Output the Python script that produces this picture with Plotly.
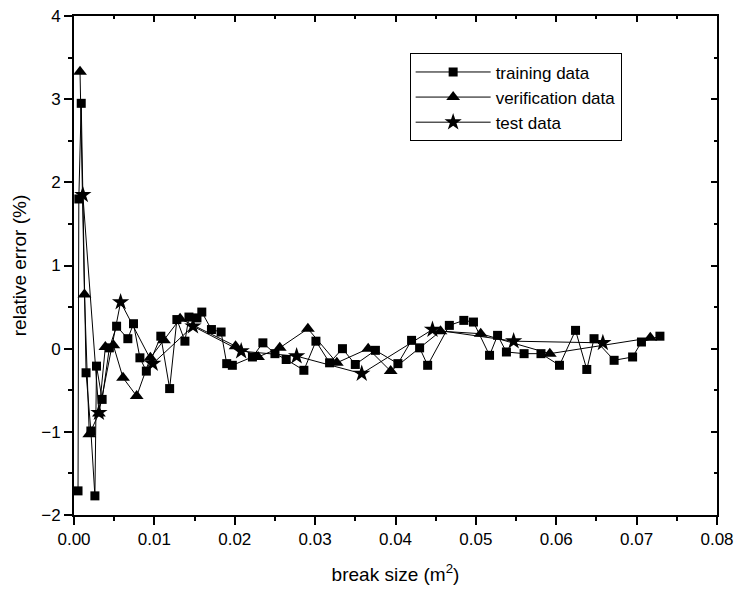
import plotly.graph_objects as go

# training data
train_x = [0.0005, 0.0006, 0.0009, 0.0015, 0.0021, 0.0026, 0.0028, 0.0035, 0.0044, 0.0053,
           0.0067, 0.0074, 0.0082, 0.0090, 0.0108, 0.0119, 0.0128, 0.0138, 0.0143, 0.0153,
           0.0159, 0.0171, 0.0183, 0.0190, 0.0197, 0.0222, 0.0235, 0.0250, 0.0264, 0.0286,
           0.0301, 0.0318, 0.0334, 0.0350, 0.0375, 0.0403, 0.0420, 0.0430, 0.0440, 0.0467,
           0.0485, 0.0497, 0.0517, 0.0527, 0.0538, 0.0560, 0.0581, 0.0604, 0.0624, 0.0638,
           0.0647, 0.0672, 0.0695, 0.0706, 0.0729]
train_y = [-1.71, 1.80, 2.95, -0.29, -0.99, -1.77, -0.21, -0.61, 0.01, 0.27,
           0.12, 0.30, -0.11, -0.27, 0.15, -0.48, 0.35, 0.09, 0.38, 0.37,
           0.44, 0.23, 0.20, -0.18, -0.20, -0.10, 0.07, -0.06, -0.13, -0.26,
           0.09, -0.17, 0.00, -0.19, -0.02, -0.18, 0.10, 0.01, -0.20, 0.28,
           0.34, 0.32, -0.08, 0.16, -0.04, -0.06, -0.06, -0.20, 0.22, -0.25,
           0.12, -0.14, -0.10, 0.08, 0.15]

# verification data
ver_x = [0.00075, 0.0013, 0.0019, 0.0031, 0.0039, 0.0049, 0.0061, 0.0078, 0.0095, 0.0112,
         0.0132, 0.0201, 0.0229, 0.0256, 0.0291, 0.0327, 0.0366, 0.0394, 0.0456, 0.0506,
         0.0592, 0.0717]
ver_y = [3.33, 0.65, -1.03, -0.78, 0.02, 0.04, -0.35, -0.57, -0.11, 0.10,
         0.36, 0.03, -0.10, 0.01, 0.24, -0.17, 0.00, -0.27, 0.21, 0.18,
         -0.06, 0.13]

# test data
test_x = [0.0011, 0.0031, 0.0058, 0.0098, 0.0148, 0.0208, 0.0277, 0.0358, 0.0446, 0.0547, 0.0658]
test_y = [1.85, -0.77, 0.56, -0.18, 0.27, -0.03, -0.09, -0.30, 0.23, 0.09, 0.07]

font_family = "Liberation Sans, Arial, sans-serif"

fig = go.Figure()
fig.add_trace(go.Scatter(x=train_x, y=train_y, mode="lines+markers", name="training data",
                         line=dict(color="black", width=1),
                         marker=dict(symbol="square", size=9, color="black")))
fig.add_trace(go.Scatter(x=ver_x, y=ver_y, mode="lines+markers", name="verification data",
                         line=dict(color="black", width=1),
                         marker=dict(symbol="triangle-up", size=12, color="black")))
fig.add_trace(go.Scatter(x=test_x, y=test_y, mode="lines+markers", name="test data",
                         line=dict(color="black", width=1),
                         marker=dict(symbol="star", size=13, color="black")))

axis_common = dict(showgrid=False, zeroline=False, linecolor="black", linewidth=2,
                   tickcolor="black", tickwidth=2, ticklen=8, automargin=False,
                   tickfont=dict(family=font_family, size=17, color="black"))

fig.update_layout(
    width=736, height=594,
    margin=dict(l=74, r=19, t=16, b=79),
    paper_bgcolor="white", plot_bgcolor="white",
    font=dict(family=font_family, color="black"),
    xaxis=dict(range=[0, 0.08], dtick=0.01, tickformat=".2f", ticks="outside",
               minor=dict(dtick=0.005, ticks="outside", ticklen=4, tickwidth=2, tickcolor="black"),
               title=dict(text="break size (m<sup>2</sup>)", font=dict(family=font_family, size=19),
                          standoff=19),
               **axis_common),
    yaxis=dict(range=[-2, 4], dtick=1, ticks="outside",
               minor=dict(dtick=0.5, ticks="outside", ticklen=4, tickwidth=2, tickcolor="black"),
               title=dict(text="relative error (%)", font=dict(family=font_family, size=19),
                          standoff=10),
               **axis_common),
    xaxis2=dict(range=[0, 0.08], overlaying="x", side="top", dtick=0.01, ticks="inside",
                showticklabels=False, showgrid=False, zeroline=False, linecolor="black",
                linewidth=2, tickcolor="black", tickwidth=2, ticklen=6, automargin=False,
                minor=dict(dtick=0.005, ticks="inside", ticklen=3, tickwidth=2, tickcolor="black")),
    yaxis2=dict(range=[-2, 4], overlaying="y", side="right", dtick=1, ticks="inside",
                showticklabels=False, showgrid=False, zeroline=False, linecolor="black",
                linewidth=2, tickcolor="black", tickwidth=2, ticklen=6, automargin=False,
                minor=dict(dtick=0.5, ticks="inside", ticklen=3, tickwidth=2, tickcolor="black")),
    legend=dict(x=0.522, y=0.925, xanchor="left", yanchor="top",
                bordercolor="black", borderwidth=1, bgcolor="white",
                font=dict(family=font_family, size=17, color="black"),
                itemwidth=75, tracegroupgap=0),
    showlegend=True,
)

# invisible trace to activate the mirrored axes
fig.add_trace(go.Scatter(x=[None], y=[None], xaxis="x2", yaxis="y2", showlegend=False,
                         hoverinfo="skip"))

fig.write_html("out.html")
